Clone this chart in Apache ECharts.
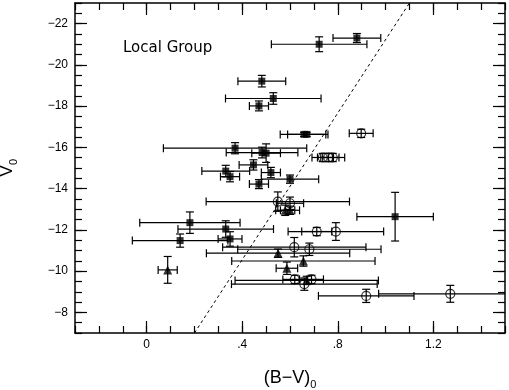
<!DOCTYPE html>
<html><head><meta charset="utf-8">
<script src="https://cdn.jsdelivr.net/npm/echarts@6/dist/echarts.min.js"></script>
<style>html,body{margin:0;padding:0;background:#fff}#c{width:509px;height:390px}</style>
</head><body><div id="c"></div>
<script>
// Filled squares
const squareX    = [0.722, 0.880, 0.482, 0.530, 0.470, 0.370, 0.483, 0.500, 0.659, 0.670, 0.447, 0.331, 0.349, 0.520, 0.470, 0.600, 1.040, 0.181, 0.331, 0.349, 0.140];
const squareV    = [-21.00, -21.30, -19.21, -18.37, -18.01, -15.96, -15.75, -15.72, -16.63, -16.63, -15.15, -14.85, -14.58, -14.78, -14.22, -14.46, -12.64, -12.35, -12.04, -11.56, -11.48];
const squareXErr = [0.20, 0.10, 0.10, 0.20, 0.04, 0.30, 0.15, 0.06, 0.10, 0.08, 0.06, 0.10, 0.04, 0.04, 0.04, 0.12, 0.16, 0.21, 0.20, 0.05, 0.20];
const squareVErr = [0.36, 0.22, 0.28, 0.28, 0.24, 0.27, 0.26, 0.45, 0.10, 0.10, 0.25, 0.28, 0.25, 0.25, 0.22, 0.20, 1.18, 0.52, 0.40, 0.35, 0.32];
// Open circles
const circleX    = [0.898, 0.737, 0.760, 0.779, 0.549, 0.600, 0.712, 0.792, 0.618, 0.681, 0.660, 0.620, 0.690, 0.919, 1.271];
const circleV    = [-16.68, -15.51, -15.51, -15.51, -13.37, -13.29, -11.92, -11.92, -11.16, -11.06, -9.37, -9.60, -9.60, -8.80, -8.90];
const circleXErr = [0.05, 0.045, 0.045, 0.05, 0.30, 0.057, 0.063, 0.20, 0.30, 0.30, 0.305, 0.05, 0.05, 0.20, 0.30];
const circleVErr = [0.20, 0.20, 0.20, 0.20, 0.47, 0.30, 0.20, 0.43, 0.47, 0.30, 0.30, 0.20, 0.20, 0.32, 0.41];
// Filled triangles
const triX    = [0.088, 0.580, 0.600, 0.550, 0.656, 0.587, 0.670];
const triV    = [-10.06, -12.95, -12.95, -10.87, -10.49, -10.14, -9.55];
const triXErr = [0.04, 0.04, 0.04, 0.30, 0.30, 0.045, 0.30];
const triVErr = [0.65, 0.25, 0.20, 0.20, 0.25, 0.30, 0.20];
// Dashed line
const lineX = [0.2, 1.1];
const lineV = [-7, -23];
// Tick labels
const xMajorTicks = [0, 0.4, 0.8, 1.2];
const xMajorLabels = ['0', '.4', '.8', '1.2'];
const yMajorTicks = [-22, -20, -18, -16, -14, -12, -10, -8];
const yMajorLabels = ['\u221222', '\u221220', '\u221218', '\u221216', '\u221214', '\u221212', '\u221210', '\u22128'];

const FONT = 'Liberation Sans, Arial, sans-serif';
const zip4 = (a, b, c, d) => a.map((v, i) => [v, b[i], c[i], d[i]]);

function errRender(params, api) {
  const x = api.value(0), y = api.value(1), ex = api.value(2), ey = api.value(3);
  const l = api.coord([x - ex, y]), r = api.coord([x + ex, y]);
  const t = api.coord([x, y - ey]), b = api.coord([x, y + ey]);
  const c = 4;
  const st = { stroke: '#000', lineWidth: 1.2, fill: null };
  const ln = (x1, y1, x2, y2) => ({ type: 'line', shape: { x1, y1, x2, y2 }, style: st });
  return { type: 'group', children: [
    ln(l[0], l[1], r[0], r[1]),
    ln(l[0], l[1] - c, l[0], l[1] + c),
    ln(r[0], r[1] - c, r[0], r[1] + c),
    ln(t[0], t[1], b[0], b[1]),
    ln(t[0] - c, t[1], t[0] + c, t[1]),
    ln(b[0] - c, b[1], b[0] + c, b[1])
  ]};
}

const gridRect = { left: 75, right: 4, top: 3, bottom: 57, containLabel: false, outerBoundsMode: 'none' };
const xBase = { type: 'value', min: -0.3, max: 1.5, splitLine: { show: false } };
const yBase = { type: 'value', min: -23, max: -7, inverse: true, splitLine: { show: false } };
const lineStyle = { color: '#000', width: 1.5 };

const chart = echarts.init(document.getElementById('c'), null, { renderer: 'canvas' });
chart.setOption({
  animation: false,
  backgroundColor: '#fff',
  textStyle: { fontFamily: FONT },
  title: { text: 'Local Group', left: 123, top: 41, padding: 0,
           textStyle: { fontSize: 15, fontWeight: 'normal', color: '#000', fontFamily: 'DejaVu Sans, sans-serif' } },
  grid: [Object.assign({}, gridRect), Object.assign({}, gridRect)],
  xAxis: [
    Object.assign({}, xBase, { gridIndex: 0, position: 'bottom', interval: 0.1,
      axisLine: { show: true, onZero: false, lineStyle },
      axisTick: { show: true, inside: true, length: 7, lineStyle: { color: '#000', width: 1.2 } },
      axisLabel: { show: false },
      name: '(B\u2212V){s|0}', nameLocation: 'middle', nameGap: 34,
      nameTextStyle: { fontSize: 18, color: '#000', fontFamily: FONT,
        rich: { s: { fontSize: 11, color: '#000', fontFamily: FONT, padding: [12, 0, 0, 0] } } } }),
    Object.assign({}, xBase, { gridIndex: 0, position: 'top', interval: 0.1,
      axisLine: { show: true, onZero: false, lineStyle },
      axisTick: { show: true, inside: true, length: 7, lineStyle: { color: '#000', width: 1.2 } },
      axisLabel: { show: false } }),
    Object.assign({}, xBase, { gridIndex: 1, position: 'bottom',
      axisLine: { show: false, onZero: false },
      axisTick: { show: true, inside: true, length: 12, customValues: xMajorTicks, lineStyle: { color: '#000', width: 1.2 } },
      axisLabel: { show: true, margin: 6, fontSize: 12, color: '#000', fontFamily: FONT, customValues: xMajorTicks,
        formatter: v => { const i = xMajorTicks.findIndex(t => Math.abs(t - v) < 1e-6); return i >= 0 ? xMajorLabels[i] : ''; } } }),
    Object.assign({}, xBase, { gridIndex: 1, position: 'top',
      axisLine: { show: false, onZero: false },
      axisTick: { show: true, inside: true, length: 12, customValues: xMajorTicks, lineStyle: { color: '#000', width: 1.2 } },
      axisLabel: { show: false } })
  ],
  yAxis: [
    Object.assign({}, yBase, { gridIndex: 0, position: 'left', interval: 0.5,
      axisLine: { show: true, onZero: false, lineStyle },
      axisTick: { show: true, inside: true, length: 7, lineStyle: { color: '#000', width: 1.2 } },
      axisLabel: { show: false },
      name: 'V{s|0}', nameLocation: 'middle', nameGap: 56, nameRotate: 90,
      nameTextStyle: { fontSize: 18, color: '#000', fontFamily: FONT,
        rich: { s: { fontSize: 11, color: '#000', fontFamily: FONT, padding: [12, 0, 0, 0] } } } }),
    Object.assign({}, yBase, { gridIndex: 0, position: 'right', interval: 0.5,
      axisLine: { show: true, onZero: false, lineStyle },
      axisTick: { show: true, inside: true, length: 7, lineStyle: { color: '#000', width: 1.2 } },
      axisLabel: { show: false } }),
    Object.assign({}, yBase, { gridIndex: 1, position: 'left',
      axisLine: { show: false, onZero: false },
      axisTick: { show: true, inside: true, length: 12, customValues: yMajorTicks, lineStyle: { color: '#000', width: 1.2 } },
      axisLabel: { show: true, margin: 7, fontSize: 12, color: '#000', fontFamily: FONT, customValues: yMajorTicks,
        formatter: v => { const i = yMajorTicks.findIndex(t => Math.abs(t - v) < 1e-6); return i >= 0 ? yMajorLabels[i] : ''; } } }),
    Object.assign({}, yBase, { gridIndex: 1, position: 'right',
      axisLine: { show: false, onZero: false },
      axisTick: { show: true, inside: true, length: 12, customValues: yMajorTicks, lineStyle: { color: '#000', width: 1.2 } },
      axisLabel: { show: false } })
  ],
  series: [
    { type: 'line', xAxisIndex: 0, yAxisIndex: 0, data: lineX.map((v, i) => [v, lineV[i]]),
      symbol: 'none', lineStyle: { color: '#000', width: 1, type: [3, 3] }, silent: true, clip: true, z: 1 },
    { type: 'custom', xAxisIndex: 0, yAxisIndex: 0, renderItem: errRender, clip: true,
      data: zip4(squareX, squareV, squareXErr, squareVErr), encode: { x: 0, y: 1 }, z: 2 },
    { type: 'custom', xAxisIndex: 0, yAxisIndex: 0, renderItem: errRender, clip: true,
      data: zip4(circleX, circleV, circleXErr, circleVErr), encode: { x: 0, y: 1 }, z: 2 },
    { type: 'custom', xAxisIndex: 0, yAxisIndex: 0, renderItem: errRender, clip: true,
      data: zip4(triX, triV, triXErr, triVErr), encode: { x: 0, y: 1 }, z: 2 },
    { type: 'scatter', xAxisIndex: 0, yAxisIndex: 0, symbol: 'rect', symbolSize: 7,
      itemStyle: { color: '#000' }, data: squareX.map((v, i) => [v, squareV[i]]), z: 3 },
    { type: 'scatter', xAxisIndex: 0, yAxisIndex: 0, symbol: 'circle', symbolSize: 9,
      itemStyle: { color: 'rgba(0,0,0,0)', borderColor: '#000', borderWidth: 1.2 },
      data: circleX.map((v, i) => [v, circleV[i]]), z: 3 },
    { type: 'scatter', xAxisIndex: 0, yAxisIndex: 0, symbol: 'triangle', symbolSize: 9,
      itemStyle: { color: '#000' }, data: triX.map((v, i) => [v, triV[i]]), z: 3 }
  ]
});
</script></body></html>
